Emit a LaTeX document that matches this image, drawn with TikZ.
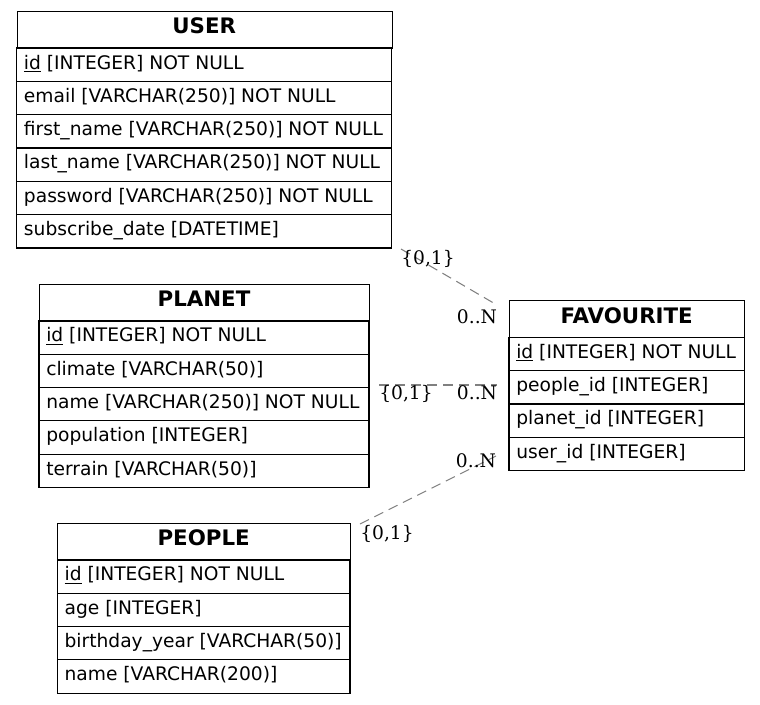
\documentclass[tikz,border=0pt]{standalone}
\usepackage{fontspec}
\setmainfont{DejaVu Sans}
\newfontfamily\lblfont{DejaVu Serif}
\usetikzlibrary{calc}
\tikzset{
  tblline/.style={draw=black, line width=0.8pt},
  rowtext/.style={anchor=base west, inner sep=0pt, font=\fontsize{14}{16}\selectfont},
  headtext/.style={anchor=base, inner sep=0pt, font=\fontsize{16}{18}\selectfont\bfseries},
  card/.style={inner sep=0pt, anchor=center, font=\lblfont\fontsize{14}{16}\selectfont},
  rel/.style={draw=gray, line width=0.8pt, dash pattern=on 7.5pt off 4.5pt},
}
\newcommand\erdtable[6]{%
  \node[tblline, inner sep=0pt, anchor=north west,
        minimum width={(#4-#2)*0.75pt}, minimum height=28pt] (#1) at (#2,#3) {};
  \node[headtext] (#1-title) at ({(#2+#4)/2},#3+23) {#5};
  \foreach \t [count=\i] in {#6} {
    \pgfmathsetmacro\ytop{#3+37.3+(\i-1)*33.33}
    \draw[tblline] (#2,\ytop) rectangle (#4,\ytop+33.33);
    \node[rowtext] (#1-\i) at (#2+7,\ytop+21) {\t};
  }%
}
\begin{document}
\begin{tikzpicture}[x=0.75pt,y=-0.75pt]
\useasboundingbox (0,0) rectangle (760,704);
\erdtable{user}{16.7}{10.7}{391.7}{USER}{%
  {\underline{id} [INTEGER] NOT NULL},
  {email [VARCHAR(250)] NOT NULL},
  {first\_name [VARCHAR(250)] NOT NULL},
  {last\_name [VARCHAR(250)] NOT NULL},
  {password [VARCHAR(250)] NOT NULL},
  {subscribe\_date [DATETIME]}}
\erdtable{planet}{39}{283.5}{369}{PLANET}{%
  {\underline{id} [INTEGER] NOT NULL},
  {climate [VARCHAR(50)]},
  {name [VARCHAR(250)] NOT NULL},
  {population [INTEGER]},
  {terrain [VARCHAR(50)]}}
\erdtable{people}{57.3}{522.5}{350}{PEOPLE}{%
  {\underline{id} [INTEGER] NOT NULL},
  {age [INTEGER]},
  {birthday\_year [VARCHAR(50)]},
  {name [VARCHAR(200)]}}
\erdtable{fav}{509}{300}{744.3}{FAVOURITE}{%
  {\underline{id} [INTEGER] NOT NULL},
  {people\_id [INTEGER]},
  {planet\_id [INTEGER]},
  {user\_id [INTEGER]}}
% connectors
\coordinate (u1) at (401,249);
\coordinate (f1) at (497,305);
\coordinate (p1) at (379,385);
\coordinate (f2) at (497,385);
\coordinate (q1) at (360,524);
\coordinate (f3) at (496,456);
\draw[rel] (u1) -- (f1);
\draw[rel] (p1) -- (f2);
\draw[rel] (q1) -- (f3);
\node[card] (u1l) at (428,259) {\{0,1\}};
\node[card] (f1l) at (477,317) {0..N};
\node[card] (p1l) at (406,394) {\{0,1\}};
\node[card] (f2l) at (477,393) {0..N};
\node[card] (q1l) at (387,534) {\{0,1\}};
\node[card] (f3l) at (476,461) {0..N};
\end{tikzpicture}
\end{document}
